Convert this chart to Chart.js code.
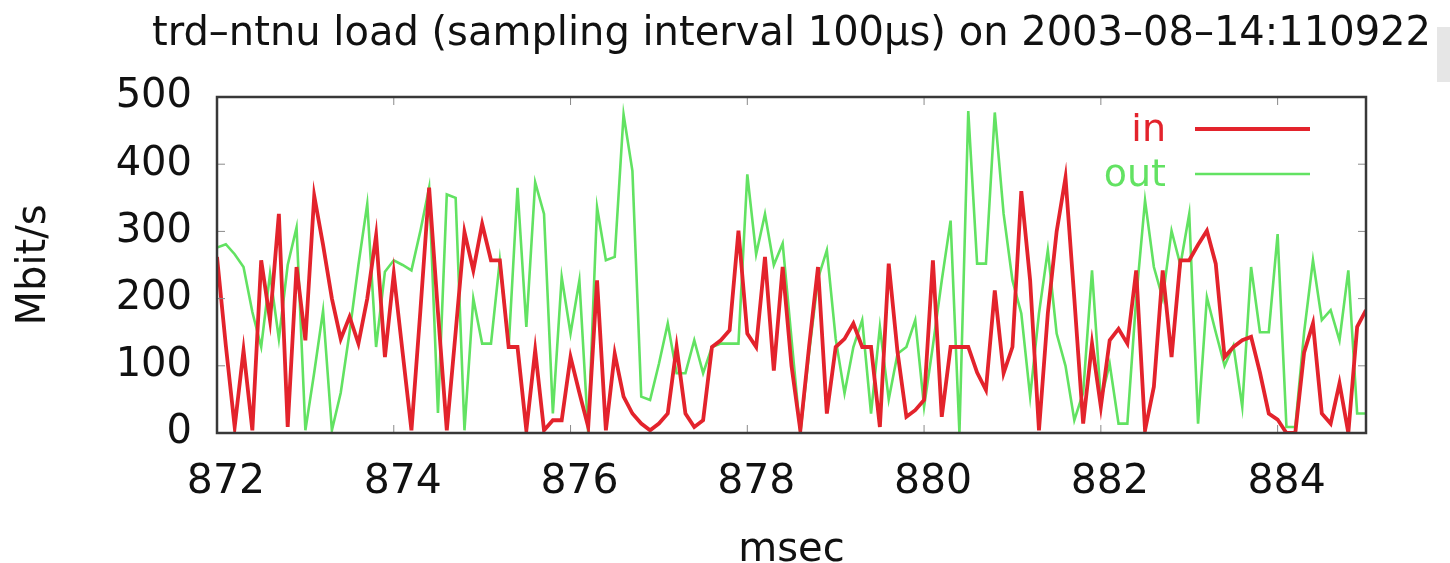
<!DOCTYPE html>
<html>
<head>
<meta charset="utf-8">
<title>trd-ntnu load</title>
<script src="https://cdn.jsdelivr.net/npm/chart.js@4.4.1/dist/chart.umd.min.js"></script>
<style>
  html,body{margin:0;padding:0;background:#fff;}
  #wrap{position:relative;width:1450px;height:563px;overflow:hidden;}
  #corner{position:absolute;left:1437px;top:27px;width:13px;height:55px;background:#e6e6e6;}
</style>
</head>
<body>
<div id="wrap"><canvas id="load"></canvas><div id="corner"></div></div>
<script>
/* trd-ntnu load, 100us samples, 872..885 msec */

/* ---------- data ---------- */
const sampleStart = 872, sampleStep = 0.1;   // msec
const xTicks = [872, 874, 876, 878, 880, 882, 884];
const yTicks = [0, 100, 200, 300, 400, 500];
const plotTitle = 'trd\u2013ntnu load (sampling interval 100\u00b5s) on 2003\u201308\u201314:110922';

const inRate = [
  262,130,  9,123,  4,257,168,326,  9,247,   // 872
  138,353,280,200,140,173,133,200,294,113,   // 873
  237,120,  4,180,365,180,  4,150,299,242,   // 874
  311,257,257,128,128,  4,123,  4, 19, 19,   // 875
  113, 60,  9,227,  4,118, 54, 29, 14,  4,   // 876
   14, 29,128, 29,  9, 19,128,138,153,301,   // 877
  148,128,262, 93,247,100,  4,130,247, 29,   // 878
  128,140,163,128,128,  9,252,120, 24, 34,   // 879
   49,257, 24,128,128,128, 90, 64,212, 89,   // 880
  128,360,227,  4,178,300,380,200, 14,133,   // 881
   39,138,155,133,242,  4, 69,242,113,257,   // 882
  257,280,301,252,113,128,138,143, 90, 29,   // 883
   20,  0,  0,120,163, 29, 14, 74,  0,158,   // 884
  183                                        // 885
];

const outRate = [
  276,281,266,247,180,128,237,140,250,306,   // 872
    4, 90,182,  4, 60,150,250,341,128,240,   // 873
  257,250,242,300,365, 30,355,350,  4,200,   // 874
  133,133,257,128,365,158,373,326, 29,232,   // 875
  148,227,  0,336,257,262,474,390, 54, 49,   // 876
  103,163, 89, 89,138, 89,128,133,133,133,   // 877
  385,266,326,250,282,140,  0,120,230,272,   // 878
  140, 59,128,168, 29,158, 50,118,128,168,   // 879
   39,130,227,316,  0,479,252,252,477,326,   // 880
  227,178, 54,178,272,148,100, 19, 60,242,   // 881
   49,103, 14, 14,200,346,247,200,301,250,   // 882
  326, 14,202,150,100,130, 39,247,150,150,   // 883
  296,  9,  9,150,257,168,183,138,242, 29,   // 884
   29                                        // 885
];

const times = inRate.map((_, i) => +(sampleStart + i * sampleStep).toFixed(1));
const pts = vals => vals.map((v, i) => ({x: times[i], y: v}));

/* ---------- look ---------- */
const FONT = '"DejaVu Sans", "Liberation Sans", sans-serif';
const RED = '#e3232c', GREEN = '#62e262';

/* title centred over the plot box, free to run wider than it */
const heading = {
  id: 'heading',
  afterDraw(chart) {
    const {ctx, chartArea: a} = chart;
    ctx.save();
    ctx.font = '40px ' + FONT;
    ctx.fillStyle = '#111';
    ctx.textAlign = 'center';
    ctx.textBaseline = 'alphabetic';
    ctx.fillText(plotTitle, (a.left + a.right) / 2, 45);
    ctx.restore();
  }
};

/* gnuplot style box with inward tics */
const frame = {
  id: 'frame',
  afterDatasetsDraw(chart) {
    const {ctx, chartArea: a, scales: {x, y}} = chart;
    ctx.save();
    ctx.strokeStyle = '#8a8a8a';
    ctx.lineWidth = 1;
    ctx.beginPath();
    yTicks.forEach(v => {
      const p = y.getPixelForValue(v);
      ctx.moveTo(a.left, p);  ctx.lineTo(a.left + 8, p);
      ctx.moveTo(a.right, p); ctx.lineTo(a.right - 8, p);
    });
    xTicks.forEach(v => {
      const p = x.getPixelForValue(v);
      ctx.moveTo(p, a.bottom); ctx.lineTo(p, a.bottom - 8);
      ctx.moveTo(p, a.top);    ctx.lineTo(p, a.top + 8);
    });
    ctx.stroke();
    ctx.strokeStyle = '#383838';
    ctx.lineWidth = 2.5;
    ctx.strokeRect(a.left, a.top, a.right - a.left, a.bottom - a.top);
    ctx.restore();
  }
};

/* key in the top right corner: label then sample line */
const key = {
  id: 'key',
  afterDatasetsDraw(chart) {
    const {ctx} = chart;
    ctx.save();
    chart.data.datasets.forEach((ds, i) => {
      const yy = 129 + i * 45;
      ctx.font = '38px ' + FONT;
      ctx.textAlign = 'right';
      ctx.textBaseline = 'middle';
      ctx.fillStyle = ds.borderColor;
      ctx.fillText(ds.label, 1166, yy + 2);
      ctx.strokeStyle = ds.borderColor;
      ctx.lineWidth = ds.borderWidth;
      ctx.beginPath();
      ctx.moveTo(1195, yy); ctx.lineTo(1310, yy);
      ctx.stroke();
    });
    ctx.restore();
  }
};

new Chart(document.getElementById('load'), {
  type: 'line',
  data: {
    datasets: [
      {label: 'in',  data: pts(inRate),  borderColor: RED,   borderWidth: 3.8},
      {label: 'out', data: pts(outRate), borderColor: GREEN, borderWidth: 2.6}
    ]
  },
  options: {
    responsive: true, maintainAspectRatio: false, animation: false,
    elements: {point: {radius: 0}, line: {tension: 0}},
    layout: {padding: {top: 97, right: 84, bottom: 0, left: 0}},
    plugins: {
      legend: {display: false},
      tooltip: {enabled: false},
      title: {display: false}
    },
    scales: {
      x: {
        type: 'linear', min: 872, max: 885,
        grid: {display: false, drawTicks: false},
        border: {display: false},
        ticks: {stepSize: 2, includeBounds: false, color: '#111', padding: 25,
                labelOffset: 9, font: {family: FONT, size: 41}, maxRotation: 0},
        title: {display: true, text: 'msec', color: '#111',
                font: {family: FONT, size: 40, lineHeight: 0.6}, padding: 0},
        afterFit: s => { s.height = 130; }
      },
      y: {
        min: 0, max: 500,
        grid: {display: false, drawTicks: false},
        border: {display: false},
        ticks: {stepSize: 100, color: '#111', padding: 25,
                font: {family: FONT, size: 40}},
        title: {display: true, text: 'Mbit/s', color: '#111',
                font: {family: FONT, size: 40, lineHeight: 1.2}, padding: 11},
        afterFit: s => { s.width = 217; }
      }
    }
  },
  plugins: [frame, key, heading]
});
</script>
</body>
</html>
